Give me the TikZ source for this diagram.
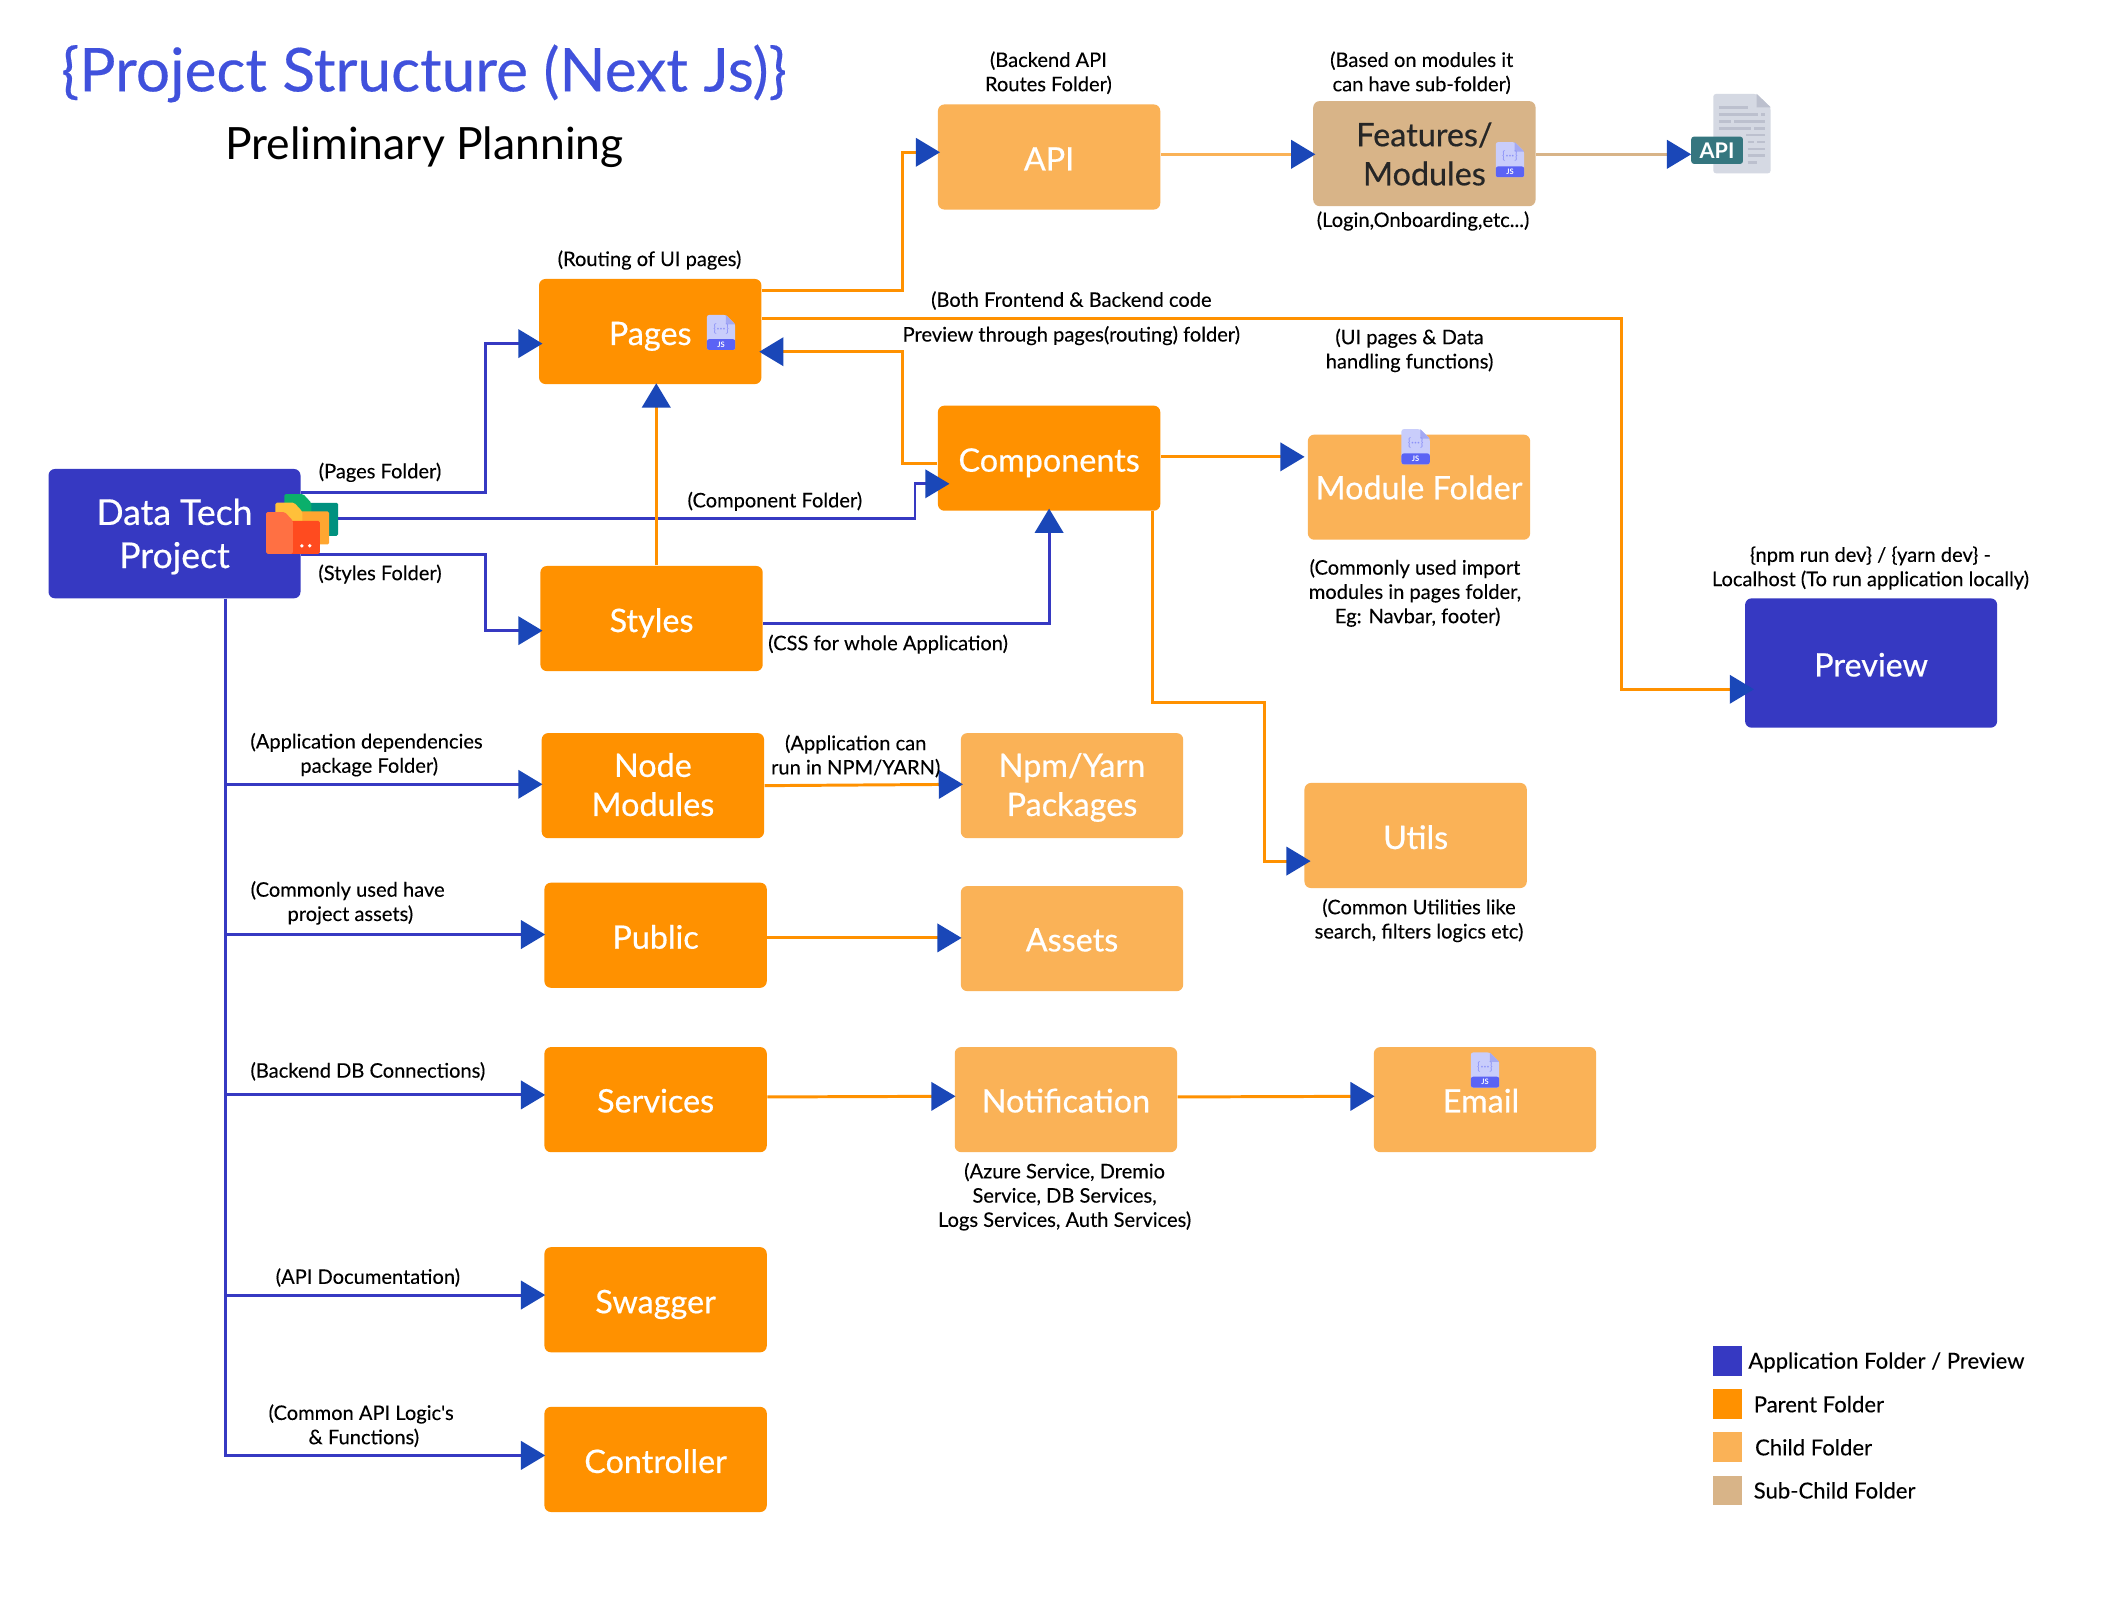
\documentclass[tikz,border=0pt]{standalone}
\usepackage{fontspec}
\setmainfont{Lato}
\newfontfamily\boxfont[FakeBold=0.5]{Lato}
\newfontfamily\lblfont[FakeBold=0.15]{Lato}
\newfontfamily\titlefont[FakeBold=0.3]{Lato}
\usetikzlibrary{arrows.meta,calc}
\definecolor{cblue}{HTML}{3639C2}
\definecolor{lineblue}{HTML}{3639C2}
\definecolor{tipblue}{HTML}{1A47B8}
\definecolor{corange}{HTML}{FF9100}
\definecolor{clight}{HTML}{FAB257}
\definecolor{ctan}{HTML}{D8B488}
\definecolor{ctitle}{HTML}{4051DC}
\definecolor{jsbody}{HTML}{C9CDFB}
\definecolor{jsfold}{HTML}{A4A9F3}
\definecolor{jsband}{HTML}{5B63F5}
\definecolor{fold1}{HTML}{0BAF6B}
\definecolor{fold2}{HTML}{00917F}
\definecolor{fold3}{HTML}{FFC03A}
\definecolor{fold4}{HTML}{FFA630}
\definecolor{fold5}{HTML}{FF7043}
\definecolor{fold6}{HTML}{FF4B1F}
\definecolor{docbody}{HTML}{D5D9E3}
\definecolor{docfold}{HTML}{BCC0CE}
\definecolor{badge}{HTML}{35767F}
\tikzset{
  x=0.5pt,y=-0.5pt,
  box/.style={rounded corners=2.4pt,minimum width=82.5pt,minimum height=39pt,inner sep=0pt,text=white,align=center,
    font=\boxfont\fontsize{12}{14.5}\selectfont,text height=11pt,text depth=1pt},
  two/.style={text height=22.5pt,text depth=0pt},
  raised/.style={text depth=1.5pt},
  parentbox/.style={box,fill=corange},
  childbox/.style={box,fill=clight},
  subbox/.style={box,fill=ctan,text=black!85},
  appbox/.style={box,fill=cblue},
  lbl/.style={inner sep=0pt,yshift=-0.5pt,align=center,text=black,font=\lblfont\fontsize{7.45}{9}\selectfont},
  legbox/.style={minimum size=11pt,inner sep=0pt},
  legtext/.style={inner sep=0pt,anchor=west,font=\lblfont\fontsize{8.2}{10}\selectfont},
  tipped/.style={-{Triangle[length=9pt,width=10.5pt,color=tipblue]}},
  blueline/.style={draw=lineblue,line width=1.1pt,tipped},
  orangeline/.style={draw=corange,line width=1.1pt,tipped},
  lightline/.style={draw=clight,line width=1.1pt,tipped},
  tanline/.style={draw=ctan,line width=1.1pt,tipped},
}
\newcommand{\jsicon}[3]{%
  \begin{scope}[shift={(#2,#3)}]
    \fill[rounded corners=0.8pt,fill=jsbody] (0,0) -- (14,0) -- (21,7) -- (21,26) -- (0,26) -- cycle;
    \fill[fill=jsfold] (14,0) -- (21,7) -- (14,7) -- cycle;
    \fill[rounded corners=0.8pt,fill=jsband] (0,18) rectangle (21,26);
    \node[inner sep=0pt,text=white,font=\bfseries\fontsize{2.8}{3}\selectfont] (js#1) at (10.5,22) {JS};
    \node[inner sep=0pt,text=jsband!70,font=\fontsize{4.2}{4}\selectfont] (br#1) at (10.5,10.5) {\{···\}};
  \end{scope}}
\newcommand{\folder}[4]{%
  \begin{scope}[shift={(#1,#2)}]
    \fill[rounded corners=0.6pt,fill=#4] (15,6.5) rectangle (40,31);
    \fill[rounded corners=0.6pt,fill=#3] (0,0) -- (14,0) -- (20,6.5) -- (20,31) -- (0,31) -- cycle;
  \end{scope}}
\begin{document}
\begin{tikzpicture}
\useasboundingbox (0,0) rectangle (1568,1189.5);
\fill[white] (0,0) rectangle (1568,1189.5);
% titles
\node[inner sep=0pt,text=ctitle,font=\titlefont\fontsize{22.4}{26}\selectfont] (title) at (314.5,54.5) {\{Project Structure (Next Js)\}};
\node[inner sep=0pt,text=black,font=\fontsize{16.5}{18}\selectfont] (subtitle) at (315,109) {Preliminary Planning};
% boxes
\node[appbox,two,text height=25.5pt,minimum width=93.5pt,minimum height=48pt,font=\boxfont\fontsize{13.2}{14.5}\selectfont] (proj) at (129.5,396) {Data Tech\\[1.5pt]Project};
\node[parentbox] (pages) at (482.5,246) {Pages};
\node[parentbox] (styles) at (483.5,459) {Styles};
\node[childbox] (api) at (778.5,116.5) {API};
\node[subbox,two,text height=23.5pt] (feat) at (1057,114) {Features/\\Modules};
\node[parentbox] (comp) at (778.5,340) {Components};
\node[childbox,text depth=2pt] (module) at (1053,361.5) {Module Folder};
\node[appbox,minimum width=93.5pt,minimum height=48pt] (preview) at (1388.5,492) {Preview};
\node[parentbox,two] (nodemod) at (484.5,583) {Node\\Modules};
\node[childbox,two] (npm) at (795.5,583) {Npm/Yarn\\Packages};
\node[parentbox] (public) at (486.5,694) {Public};
\node[childbox,raised] (assets) at (795.5,696.5) {Assets};
\node[childbox] (utils) at (1050.5,620) {Utils};
\node[parentbox,raised] (services) at (486.5,816) {Services};
\node[childbox,raised] (notif) at (791,816) {Notification};
\node[childbox,raised] (email) at (1102,816) {Email\hspace*{3pt}};
\node[parentbox] (swagger) at (486.5,964.5) {Swagger};
\node[parentbox] (controller) at (486.5,1083) {Controller};
% connectors
\draw[blueline] ($(proj.north east)+(0,18)$) -| (360,255) -- ($(pages.west)+(3,9)$);
\draw[blueline] ($(proj.east)+(0,-11)$) -| (679,359) -- ($(comp.west)+(9,19)$);
\draw[blueline] ($(proj.south east)+(0,-33)$) -| (360,468) -- ($(styles.west)+(2,9)$);
\draw[orangeline] ($(styles.north)+(3.5,0)$) -- ($(pages.south)+(4.5,-1)$);
\draw[blueline] ($(styles.east)+(0,3.5)$) -| ($(comp.south)+(0,-2)$);
\draw[orangeline] ($(pages.north east)+(0,9)$) -| (670,113) -- ($(api.west)+(2,-3.5)$);
\draw[orangeline] ($(pages.east)+(0,-10)$) -| (1203,511.5) -- ($(preview.west)+(7,19.5)$);
\draw[orangeline] ($(comp.west)+(0,4)$) -| (670,261) -- ($(pages.east)+(-2,15)$);
\draw[lightline] ($(api.east)+(0,-2)$) -- ($(feat.west)+(2,0.5)$);
\draw[tanline] ($(feat.east)+(0,0.5)$) -- (1255,114.5);
\draw[orangeline] ($(comp.east)+(0,-1)$) -- ($(module.west)+(-2,-22.5)$);
\draw[orangeline] ($(comp.south east)+(-6,0)$) |- (938,521) |- ($(utils.west)+(5,19)$);
\draw[blueline] ($(proj.south)+(37.5,0)$) |- ($(nodemod.west)+(1,-1)$);
\draw[blueline] ($(proj.south)+(37.5,0)$) |- ($(public.west)+(1,-0.5)$);
\draw[blueline] ($(proj.south)+(37.5,0)$) |- ($(services.west)+(1,-3.5)$);
\draw[blueline] ($(proj.south)+(37.5,0)$) |- ($(swagger.west)+(1,-3.5)$);
\draw[blueline] ($(proj.south)+(37.5,0)$) |- ($(controller.west)+(1,-3)$);
\draw[orangeline] (nodemod.east) -- ($(npm.west)+(2,-1)$);
\draw[orangeline] ($(public.east)+(0,2)$) -- ($(assets.west)+(1,-0.5)$);
\draw[orangeline] ($(services.east)+(0,-2)$) -- ($(notif.west)+(1,-2.5)$);
\draw[orangeline] ($(notif.east)+(0,-2)$) -- ($(email.west)+(1,-2.5)$);
% labels
\node[lbl] (l1) at (482,192) {(Routing of UI pages)};
\node[lbl] (l2) at (778,53) {(Backend API\\Routes Folder)};
\node[lbl] (l3) at (1055,53) {(Based on modules it\\can have sub-folder)};
\node[lbl] (l4) at (1056,163) {(Login,Onboarding,etc...)};
\node[lbl] (l5) at (795,222) {(Both Frontend \& Backend code};
\node[lbl] (l6) at (795,248) {Preview through pages(routing) folder)};
\node[lbl] (l7) at (1046,259) {(UI pages \& Data\\handling functions)};
\node[lbl] (l8) at (282,349.5) {(Pages Folder)};
\node[lbl] (l9) at (575,371) {(Component Folder)};
\node[lbl] (l10) at (282,425) {(Styles Folder)};
\node[lbl] (l11) at (659,477) {(CSS for whole Application)};
\node[lbl] (l12) at (1050,439) {(Commonly used import\\modules in pages folder,\\\hspace*{2pt}Eg: Navbar, footer)};
\node[lbl] (l13) at (1388,420.5) {\{npm run dev\} / \{yarn dev\} -\\Localhost (To run application locally)};
\node[lbl] (l14) at (272,559) {(Application dependencies\\\hspace*{2pt}package Folder)};
\node[lbl] (l15) at (635,560) {(Application can\\run in NPM/YARN)};
\node[lbl] (l16) at (258,669) {(Commonly used have\\\hspace*{2pt}project assets)};
\node[lbl] (l17) at (1053,682) {(Common Utilities like\\search, filters logics etc)};
\node[lbl] (l18) at (273,794) {(Backend DB Connections)};
\node[lbl] (l19) at (790,887) {(Azure Service, Dremio\\Service, DB Services,\\Logs Services, Auth Services)};
\node[lbl] (l20) at (273,947) {(API Documentation)};
\node[lbl] (l21) at (268,1057) {(Common API Logic's\\\hspace*{2pt}\& Functions)};
% icons
\jsicon{a}{524.6}{233.7}
\jsicon{b}{1110}{105.5}
\jsicon{c}{1040}{318.5}
\jsicon{d}{1091.5}{781}
\folder{211}{366.6}{fold1}{fold2}
\folder{204.3}{373}{fold3}{fold4}
\folder{197.4}{380}{fold5}{fold6}
\fill[white] (224,405) circle (1.4) (229.8,405) circle (1.4);
% API document icon
\fill[rounded corners=1pt,fill=docbody] (1271.4,69.7) -- (1303.6,69.7) -- (1313.9,79.6) -- (1313.9,128.6) -- (1271.4,128.6) -- cycle;
\fill[fill=docfold] (1303.6,69.7) -- (1313.9,79.6) -- (1303.6,79.6) -- cycle;
\begin{scope}[draw=docfold,line width=1pt]
\draw (1275.6,79.8) -- (1297.4,79.8);
\draw (1275.6,84.8) -- (1304.9,84.8) (1306.8,84.8) -- (1309.7,84.8);
\draw (1275.6,90.2) -- (1284.3,90.2) (1286.8,90.2) -- (1309.7,90.2);
\draw (1275.6,95.2) -- (1299.4,95.2) (1301.9,95.2) -- (1309.7,95.2);
\draw (1295.7,100.1) -- (1309.7,100.1);
\draw (1296.9,105.3) -- (1301.9,105.3) (1304.1,105.3) -- (1309.7,105.3);
\draw (1296.9,110.5) -- (1309.7,110.5);
\draw (1296.9,115.5) -- (1309.7,115.5);
\draw (1296.9,120.4) -- (1303.9,120.4);
\end{scope}
\node[fill=badge,rounded corners=1pt,text=white,minimum width=19.2pt,minimum height=10.1pt,inner sep=0pt,font=\bfseries\fontsize{8}{9}\selectfont] (badge) at (1274.2,111.5) {API};
% legend
\node[legbox,fill=cblue] (lg1) at (1282,1010) {};
\node[legbox,fill=corange] (lg2) at (1282,1042) {};
\node[legbox,fill=clight] (lg3) at (1282,1074) {};
\node[legbox,fill=ctan] (lg4) at (1282,1106) {};
\node[legtext] (lt1) at (1297,1011) {Application Folder / Preview};
\node[legtext] (lt2) at (1301,1042) {Parent Folder};
\node[legtext] (lt3) at (1302,1074) {Child Folder};
\node[legtext] (lt4) at (1301,1106) {Sub-Child Folder};
\end{tikzpicture}
\end{document}
